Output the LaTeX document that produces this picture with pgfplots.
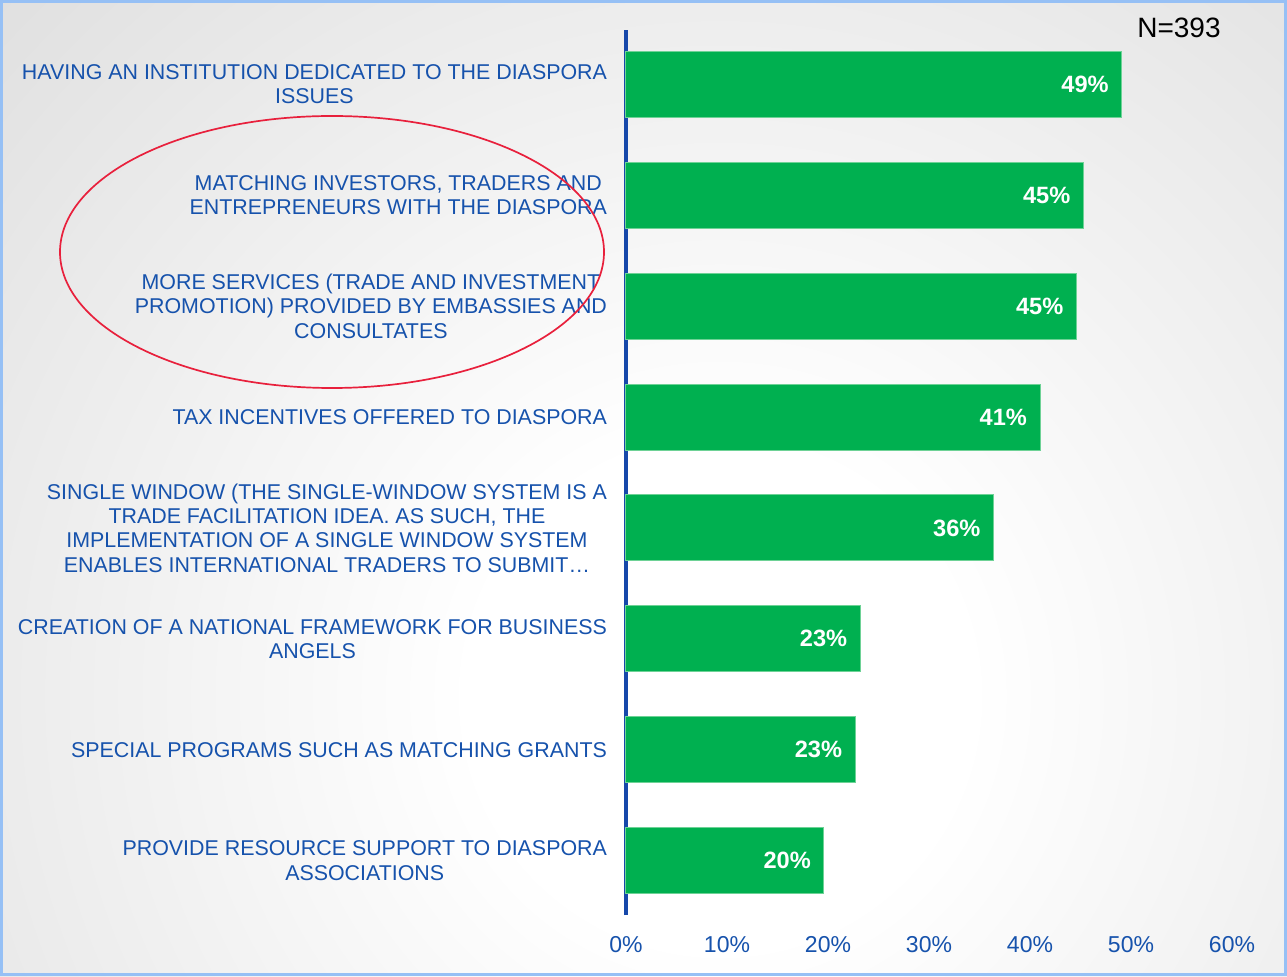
\documentclass[border=0pt]{standalone}
\usepackage{fontspec}
\setmainfont{Liberation Sans}
\usepackage{pgfplots}
\pgfplotsset{compat=1.18}
\definecolor{lblue}{RGB}{22,82,172}
\definecolor{axblue}{RGB}{22,72,170}
\definecolor{bargreen}{RGB}{0,176,80}
\definecolor{baredge}{RGB}{110,210,150}
\definecolor{bggray}{RGB}{190,190,190}
\definecolor{frameblue}{RGB}{150,192,245}
\definecolor{ellred}{RGB}{232,32,60}
\pgfdeclareradialshading{bgshade}{\pgfpointorigin}{color(0bp)=(white); color(6bp)=(white); color(44bp)=(bggray); color(50bp)=(bggray)}
\begin{document}
\begin{tikzpicture}
\useasboundingbox (0,0) rectangle (643.5pt,488pt);
\fill[bggray] (0,0) rectangle (643.5pt,488pt);
\begin{scope}
\clip (0,0) rectangle (643.5pt,488pt);
\shade[shading=bgshade] (360pt,140pt) circle (520pt);
\end{scope}
\begin{axis}[
  at={(313pt,30.5pt)}, anchor=south west,
  scale only axis, width=303pt, height=442.5pt,
  xmin=0, xmax=60, ymin=-0.49, ymax=7.49,
  xbar, bar width=33pt,
  axis lines=left,
  x axis line style={draw=none},
  y axis line style={-, draw=axblue, line width=1.7pt},
  major tick length=0pt,
  xtick={0,10,20,30,40,50,60},
  xticklabels={0\%,10\%,20\%,30\%,40\%,50\%,60\%},
  xticklabel style={font=\fontsize{11.5}{13}\selectfont, text=lblue, yshift=-7pt},
  ytick={0,1,2,3,4,5,6,7},
  yticklabels={
    {PROVIDE RESOURCE SUPPORT TO DIASPORA\\ASSOCIATIONS},
    {SPECIAL PROGRAMS SUCH AS MATCHING GRANTS},
    {CREATION OF A NATIONAL FRAMEWORK FOR BUSINESS\\ANGELS},
    {SINGLE WINDOW (THE SINGLE-WINDOW SYSTEM IS A\\TRADE FACILITATION IDEA. AS SUCH, THE\\IMPLEMENTATION OF A SINGLE WINDOW SYSTEM\\ENABLES INTERNATIONAL TRADERS TO SUBMIT…},
    {TAX INCENTIVES OFFERED TO DIASPORA},
    {MORE SERVICES (TRADE AND INVESTMENT\\PROMOTION) PROVIDED BY EMBASSIES AND\\CONSULTATES},
    {MATCHING INVESTORS, TRADERS AND\\ENTREPRENEURS WITH THE DIASPORA},
    {HAVING AN INSTITUTION DEDICATED TO THE DIASPORA\\ISSUES}},
  yticklabel style={align=center, font=\fontsize{10.7}{12.2}\selectfont, text=lblue, xshift=-6pt},
  point meta=explicit symbolic,
  nodes near coords={\pgfplotspointmeta\%},
  nodes near coords style={anchor=east, text=white, font=\bfseries\fontsize{11.8}{13}\selectfont, xshift=-3pt},
  clip=false,
]
\addplot[fill=bargreen, draw=baredge, line width=0.5pt] coordinates {
  (19.6,0) [20]
  (22.7,1) [23]
  (23.2,2) [23]
  (36.4,3) [36]
  (41.0,4) [41]
  (44.6,5) [45]
  (45.3,6) [45]
  (49.1,7) [49]
};
\end{axis}
\node[font=\fontsize{14}{16}\selectfont] at (589.5pt,474pt) {N=393};
\draw[ellred, line width=0.85pt] (166pt,362pt) ellipse [x radius=136pt, y radius=68pt];
\draw[frameblue, line width=1.5pt] (0.75pt,0.75pt) rectangle (642.75pt,487.25pt);
\end{tikzpicture}
\end{document}
